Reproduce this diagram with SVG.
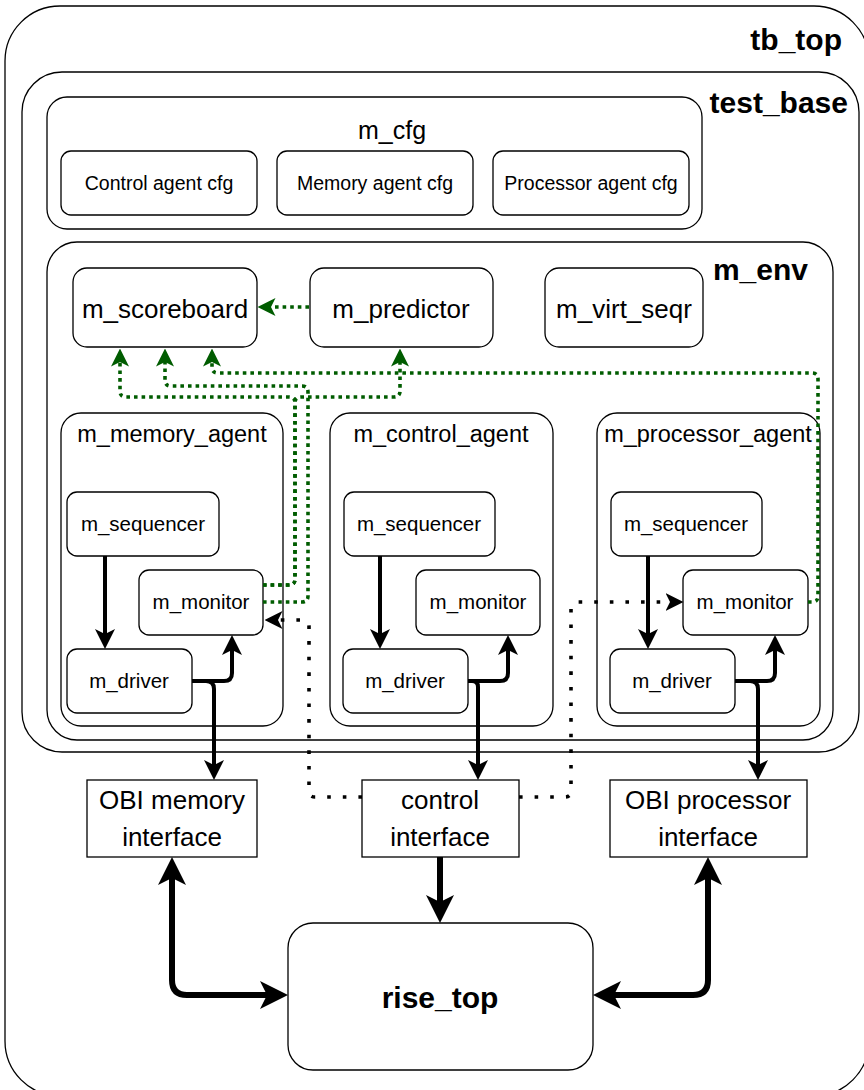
<svg xmlns="http://www.w3.org/2000/svg" width="864" height="1090" viewBox="0 0 864 1090">
  <style>
    text { font-family: "Liberation Sans", Arial, sans-serif; fill: #000; }
    .box { fill: #fff; stroke: #000; stroke-width: 1.3; }
    .title { font-weight: bold; font-size: 30px; text-anchor: end; }
    .c { text-anchor: middle; }
    .big { font-size: 26px; }
    .agent { font-size: 23.5px; }
    .sub { font-size: 20.5px; }
    .cfg { font-size: 19.5px; }
    .wire { fill: none; stroke: #000; stroke-width: 4; }
    .bus { fill: none; stroke: #000; stroke-width: 6; }
    .ana { fill: none; stroke: #005c00; stroke-width: 3.6; stroke-dasharray: 3.6 4; }
    .ctl { fill: none; stroke: #000; stroke-width: 3.6; stroke-dasharray: 3.6 12; }
  </style>
  <defs>
    <marker id="arrowWire" viewBox="0 0 20 20" markerWidth="20" markerHeight="20" refX="5" refY="10" orient="auto" markerUnits="userSpaceOnUse">
      <path d="M0,0 L20,10 L0,20 L5,10 Z" fill="#000"/>
    </marker>
    <marker id="arrowBus" viewBox="0 0 28 28" markerWidth="28" markerHeight="28" refX="7" refY="14" orient="auto-start-reverse" markerUnits="userSpaceOnUse">
      <path d="M0,0 L28,14 L0,28 L7,14 Z" fill="#000"/>
    </marker>
    <marker id="arrowGreen" viewBox="0 0 18 18" markerWidth="18" markerHeight="18" refX="4.5" refY="9" orient="auto" markerUnits="userSpaceOnUse">
      <path d="M0,0 L18,9 L0,18 L4.5,9 Z" fill="#005c00"/>
    </marker>
    <marker id="arrowCtl" viewBox="0 0 18 18" markerWidth="18" markerHeight="18" refX="4.5" refY="9" orient="auto" markerUnits="userSpaceOnUse">
      <path d="M0,0 L18,9 L0,18 L4.5,9 Z" fill="#000"/>
    </marker>
  </defs>

  <!-- containers -->
  <g id="tb_top">
    <rect class="box" x="5" y="6" width="864" height="1090" rx="55"/>
    <text class="title" x="842" y="50">tb_top</text>
  </g>
  <g id="test_base">
    <rect class="box" x="22" y="72" width="837" height="680" rx="40"/>
    <text class="title" x="848" y="113">test_base</text>
  </g>
  <g id="m_cfg">
    <rect class="box" x="47" y="97" width="655" height="132" rx="20"/>
    <text class="c" x="392" y="139" font-size="25">m_cfg</text>
  </g>
  <g id="control_agent_cfg">
    <rect class="box" x="61" y="151" width="196" height="64" rx="10"/>
    <text class="c cfg" x="159" y="190">Control agent cfg</text>
  </g>
  <g id="memory_agent_cfg">
    <rect class="box" x="277" y="151" width="196" height="64" rx="10"/>
    <text class="c cfg" x="375" y="190">Memory agent cfg</text>
  </g>
  <g id="processor_agent_cfg">
    <rect class="box" x="493" y="151" width="196" height="64" rx="10"/>
    <text class="c cfg" x="591" y="190">Processor agent cfg</text>
  </g>
  <g id="m_env">
    <rect class="box" x="47" y="242" width="786" height="498" rx="30"/>
    <text class="title" x="808" y="280">m_env</text>
  </g>
  <g id="m_scoreboard">
    <rect class="box" x="73" y="268" width="184" height="79" rx="14"/>
    <text class="c big" x="165" y="318">m_scoreboard</text>
  </g>
  <g id="m_predictor">
    <rect class="box" x="310" y="268" width="183" height="79" rx="14"/>
    <text class="c big" x="401" y="318">m_predictor</text>
  </g>
  <g id="m_virt_seqr">
    <rect class="box" x="545" y="268" width="158" height="79" rx="14"/>
    <text class="c big" x="624" y="318">m_virt_seqr</text>
  </g>

  <!-- memory agent -->
  <g id="m_memory_agent">
    <rect class="box" x="61" y="413" width="222" height="313" rx="20"/>
    <text class="c agent" x="172" y="442">m_memory_agent</text>
  </g>
  <g id="mem_sequencer">
    <rect class="box" x="67" y="492" width="152" height="64" rx="10"/>
    <text class="c sub" x="143" y="531">m_sequencer</text>
  </g>
  <g id="mem_monitor">
    <rect class="box" x="139" y="570" width="124" height="65" rx="10"/>
    <text class="c sub" x="201" y="609">m_monitor</text>
  </g>
  <g id="mem_driver">
    <rect class="box" x="67" y="649" width="125" height="64" rx="10"/>
    <text class="c sub" x="129" y="688">m_driver</text>
  </g>

  <!-- control agent -->
  <g id="m_control_agent">
    <rect class="box" x="330" y="413" width="223" height="313" rx="20"/>
    <text class="c agent" x="441" y="442">m_control_agent</text>
  </g>
  <g id="ctl_sequencer">
    <rect class="box" x="344" y="492" width="151" height="64" rx="10"/>
    <text class="c sub" x="419" y="531">m_sequencer</text>
  </g>
  <g id="ctl_monitor">
    <rect class="box" x="416" y="570" width="124" height="65" rx="10"/>
    <text class="c sub" x="478" y="609">m_monitor</text>
  </g>
  <g id="ctl_driver">
    <rect class="box" x="343" y="649" width="125" height="64" rx="10"/>
    <text class="c sub" x="405" y="688">m_driver</text>
  </g>

  <!-- processor agent -->
  <g id="m_processor_agent">
    <rect class="box" x="597" y="413" width="223" height="313" rx="20"/>
    <text class="c agent" x="708" y="442">m_processor_agent</text>
  </g>
  <g id="proc_sequencer">
    <rect class="box" x="611" y="492" width="151" height="64" rx="10"/>
    <text class="c sub" x="686" y="531">m_sequencer</text>
  </g>
  <g id="proc_monitor">
    <rect class="box" x="683" y="570" width="125" height="65" rx="10"/>
    <text class="c sub" x="745" y="609">m_monitor</text>
  </g>
  <g id="proc_driver">
    <rect class="box" x="610" y="649" width="125" height="64" rx="10"/>
    <text class="c sub" x="672" y="688">m_driver</text>
  </g>

  <!-- interfaces and DUT -->
  <g id="obi_memory_if">
    <rect class="box" x="87" y="780" width="170" height="77"/>
    <text class="c big" x="172" y="809">OBI memory</text>
    <text class="c big" x="172" y="846">interface</text>
  </g>
  <g id="control_if">
    <rect class="box" x="362" y="780" width="157" height="77"/>
    <text class="c big" x="440" y="809">control</text>
    <text class="c big" x="440" y="846">interface</text>
  </g>
  <g id="obi_processor_if">
    <rect class="box" x="610" y="780" width="197" height="77"/>
    <text class="c big" x="708" y="809">OBI processor</text>
    <text class="c big" x="708" y="846">interface</text>
  </g>
  <g id="rise_top">
    <rect class="box" x="288" y="923" width="305" height="147" rx="25"/>
    <text class="c" x="440" y="1008" font-size="30" font-weight="bold">rise_top</text>
  </g>

  <!-- connectors -->
  <g id="connectors">
    <!-- sequencer to driver -->
    <path class="wire" d="M105,556 V634" marker-end="url(#arrowWire)"/>
    <path class="wire" d="M380,556 V634" marker-end="url(#arrowWire)"/>
    <path class="wire" d="M648,556 V634" marker-end="url(#arrowWire)"/>
    <!-- driver to interface and monitor -->
    <path class="wire" d="M192,681 H206 Q214,681 214,689 V765" marker-end="url(#arrowWire)"/>
    <path class="wire" d="M192,681 H224 Q232,681 232,673 V650" marker-end="url(#arrowWire)"/>
    <path class="wire" d="M468,681 H472 Q478,681 478,687 V765" marker-end="url(#arrowWire)"/>
    <path class="wire" d="M468,681 H500 Q508,681 508,673 V650" marker-end="url(#arrowWire)"/>
    <path class="wire" d="M735,681 H750 Q758,681 758,689 V765" marker-end="url(#arrowWire)"/>
    <path class="wire" d="M735,681 H767 Q775,681 775,673 V650" marker-end="url(#arrowWire)"/>
    <!-- interfaces to DUT -->
    <path class="bus" d="M172,878 V980 Q172,995 187,995 H267" marker-start="url(#arrowBus)" marker-end="url(#arrowBus)"/>
    <path class="bus" d="M440,857 V902" marker-end="url(#arrowBus)"/>
    <path class="bus" d="M708,878 V980 Q708,995 693,995 H614" marker-start="url(#arrowBus)" marker-end="url(#arrowBus)"/>
    <!-- analysis ports -->
    <path class="ana" d="M309,307 H271" marker-end="url(#arrowGreen)"/>
    <path class="ana" d="M263,585 H289 Q295,585 295,579 V403 Q295,397 289,397 H126 Q120,397 120,391 V362" marker-end="url(#arrowGreen)"/>
    <path class="ana" d="M263,585 H289 Q295,585 295,579 V403 Q295,397 301,397 H394 Q400,397 400,391 V362" marker-end="url(#arrowGreen)"/>
    <path class="ana" d="M263,602 H302 Q308,602 308,596 V392 Q308,386 302,386 H171 Q165,386 165,380 V362" marker-end="url(#arrowGreen)"/>
    <path class="ana" d="M808,602 H812 Q818,602 818,596 V379 Q818,373 812,373 H218 Q212,373 212,367 V362" marker-end="url(#arrowGreen)"/>
    <!-- control interface to monitors -->
    <path class="ctl" d="M362,797 H315 Q309,797 309,791 V626 Q309,620 303,620 H278" marker-end="url(#arrowCtl)"/>
    <path class="ctl" d="M519,797 H565 Q571,797 571,791 V608 Q571,602 577,602 H670" marker-end="url(#arrowCtl)"/>
  </g>
</svg>
